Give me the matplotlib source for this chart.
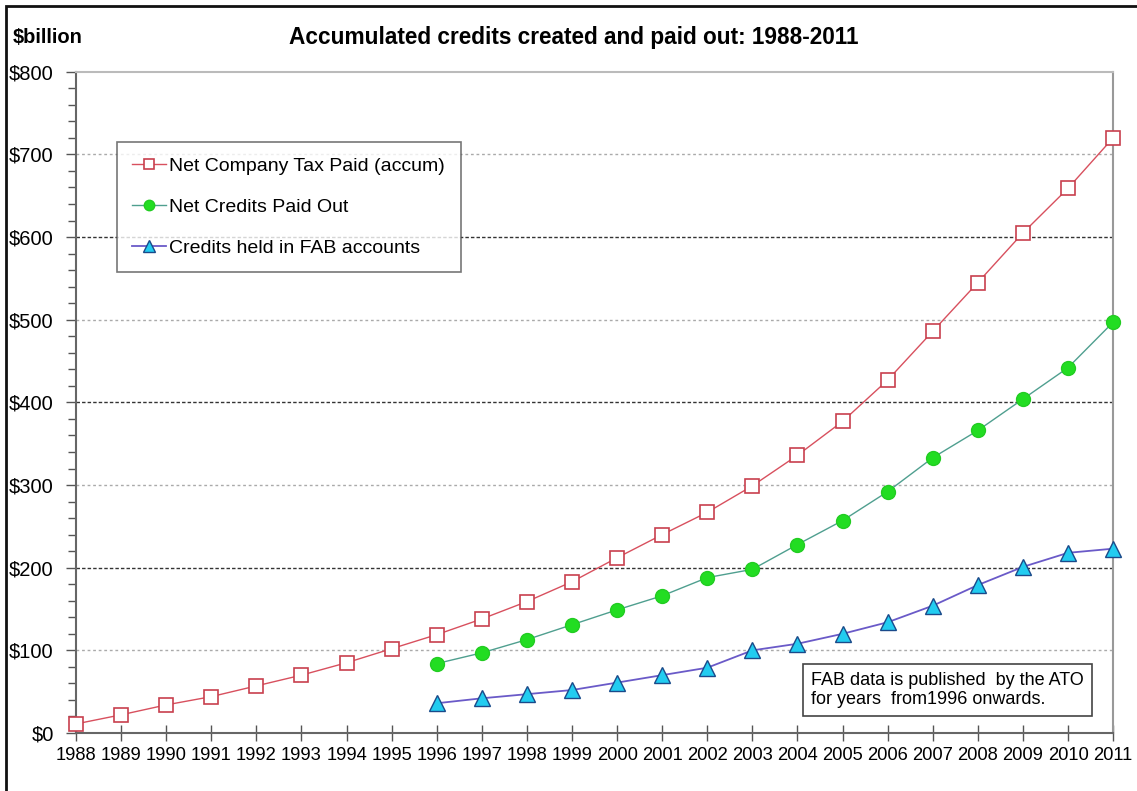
import numpy as np
import matplotlib.pyplot as plt
from matplotlib.patches import Rectangle
from matplotlib.ticker import MultipleLocator, FuncFormatter

plt.rcParams['font.family'] = 'Liberation Sans'

# Accumulated totals, $ billion
years = list(range(1988, 2012))
tax_paid = [11, 22, 34, 44, 57, 70, 85, 102, 119, 138, 159, 183, 212, 240,
            267, 299, 336, 377, 427, 486, 545, 605, 659, 720]
fab_years = list(range(1996, 2012))
credits_paid = [84, 97, 113, 131, 149, 166, 188, 198, 228, 257, 292, 333,
                366, 404, 442, 497]
credits_held = [36, 42, 47, 52, 61, 70, 79, 100, 108, 120, 134, 154,
                179, 201, 218, 223]

fig = plt.figure(figsize=(11.37, 7.91), dpi=100)
ax = fig.add_axes([0.0668, 0.0733, 0.9122, 0.836])

ax.plot(years, tax_paid, color='#d8505e', lw=1.0, marker='s', ms=10,
        mfc='white', mec='#c8404e', mew=1.2, label='Net Company Tax Paid (accum)',
        zorder=3, clip_on=False)
ax.plot(fab_years, credits_paid, color='#4f9f8f', lw=1.0, marker='o', ms=10,
        mfc='#22dd22', mec='#22cc22', label='Net Credits Paid Out', zorder=3,
        clip_on=False)
ax.plot(fab_years, credits_held, color='#6a5ac8', lw=1.3, marker='^', ms=11,
        mfc='#22ccf0', mec='#1a4a8a', mew=1.0, label='Credits held in FAB accounts',
        zorder=3, clip_on=False)

ax.set_xlim(1988, 2011)
ax.set_ylim(0, 800)
ax.set_xticks(years)
ax.yaxis.set_major_locator(MultipleLocator(100))
ax.yaxis.set_minor_locator(MultipleLocator(20))
ax.yaxis.set_major_formatter(FuncFormatter(lambda v, p: f'${int(v)}'))

# alternating grid styles
for v in range(100, 800, 100):
    if v % 200 == 0:
        ax.axhline(v, color='#333333', lw=1.0, ls=(0, (2.5, 1.5)), zorder=1)
    else:
        ax.axhline(v, color='#aaaaaa', lw=1.0, ls=(0, (2, 2)), zorder=1)

for side in ['left', 'bottom']:
    ax.spines[side].set_color('#666666')
    ax.spines[side].set_linewidth(1.5)
for side in ['top', 'right']:
    ax.spines[side].set_color('#bbbbbb')
    ax.spines[side].set_linewidth(1.5)
ax.spines['right'].set_color('#999999')

ax.tick_params(axis='x', direction='inout', length=12, width=1, color='#555555',
               labelsize=13.2, pad=4)
ax.tick_params(axis='y', which='major', direction='out', length=7, width=1,
               color='#555555', labelsize=14.5, pad=9)
ax.tick_params(axis='y', which='minor', direction='out', length=6, width=1,
               color='#555555')

leg = ax.legend(loc='upper left', bbox_to_anchor=(0.0395, 0.894), fontsize=14,
                frameon=True, fancybox=False, edgecolor='#555555', borderpad=0.8,
                labelspacing=1.2, handlelength=1.7, handletextpad=0.2,
                borderaxespad=0, markerscale=0.75)
leg.get_frame().set_linewidth(1.2)

ax.text(0.7085, 0.038, 'FAB data is published  by the ATO\nfor years  from1996 onwards.',
        transform=ax.transAxes, fontsize=13, va='bottom', ha='left', linespacing=1.15,
        bbox=dict(boxstyle='square,pad=0.45', fc='white', ec='#444444', lw=1.2), zorder=4)

fig.text(0.505, 0.953, 'Accumulated credits created and paid out: 1988-2011',
         ha='center', va='center', fontsize=16.3, fontweight='bold')
fig.text(0.011, 0.953, '$billion', ha='left', va='center', fontsize=14.5,
         fontweight='bold')

# outer frame
fig.patches.append(Rectangle((6 / 1137, -0.05), 1.2, 1 - 6 / 791 + 0.05,
                             transform=fig.transFigure, fill=False,
                             ec='#111111', lw=2.0))

fig.savefig('out.png', dpi=100)
